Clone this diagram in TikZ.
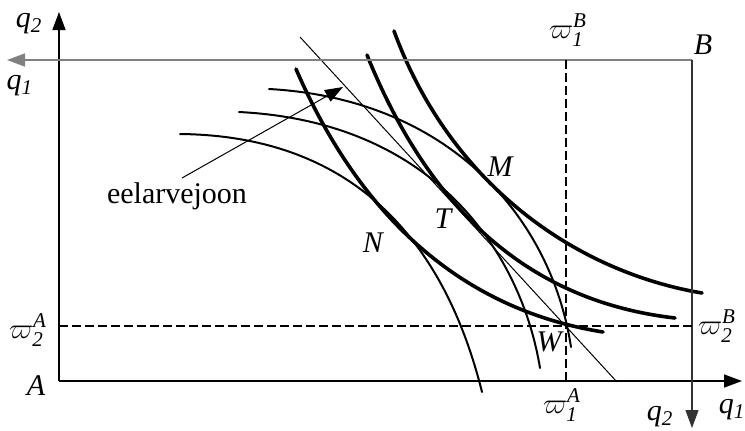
\documentclass[tikz,border=0pt]{standalone}
\usepackage{amsmath}
\usepackage{fontspec}
\setmainfont{Liberation Serif}
\usetikzlibrary{arrows.meta}
\begin{document}
\begin{tikzpicture}[x=0.5pt,y=-0.5pt,
  tip/.style={-{Triangle[length=9pt,width=6.5pt]}},
  axisline/.style={line width=0.75pt,tip},
  thickc/.style={line width=1.8pt,line cap=round},
  thinc/.style={line width=1pt,line cap=round},
  budget/.style={line width=0.5pt},
  dashl/.style={line width=1.3pt,dash pattern=on 4.3pt off 2.2pt},
  lbl/.style={font=\fontsize{15}{17}\selectfont\itshape,inner sep=0pt},
  txt/.style={font=\fontsize{15}{17}\selectfont,inner sep=0pt}]
\useasboundingbox (0,0) rectangle (745,430);
% key points
\coordinate (A) at (59,381);
\coordinate (Bp) at (692,60);
\coordinate (q2top) at (59,12);
\coordinate (q1right) at (742,381);
\coordinate (q1left) at (7,60);
\coordinate (q2bot) at (692,428);
\coordinate (d1top) at (566,60);
\coordinate (d1bot) at (566,381);
\coordinate (d2left) at (59,326);
\coordinate (d2right) at (692,326);
\coordinate (bl1) at (300,37);
\coordinate (bl2) at (617,382);
\coordinate (arrS) at (182,178);
\coordinate (arrE) at (343,87);
% A's indifference curves (thick)
\coordinate (a0) at (296,69);  \coordinate (a1) at (603,332);
\coordinate (b0) at (367,55);  \coordinate (b1) at (675,318);
\coordinate (c0) at (394,31);  \coordinate (c1) at (702,293);
\draw[thickc] (a0) .. controls (356,207) and (453,308) .. (a1);
\draw[thickc] (b0) .. controls (437,228) and (545,303) .. (b1);
\draw[thickc] (c0) .. controls (449,181) and (572,271) .. (c1);
% B's indifference curves (thin)
\coordinate (d0) at (269,89);  \coordinate (d1) at (571,347);
\coordinate (e0) at (239,112); \coordinate (e1) at (540,368);
\coordinate (f0) at (180,134); \coordinate (f1) at (482,392);
\draw[thinc] (d0) .. controls (449,99) and (551,217) .. (d1);
\draw[thinc] (e0) .. controls (439,122) and (522,258) .. (e1);
\draw[thinc] (f0) .. controls (372,136) and (450,264) .. (f1);
% budget line
\draw[budget] (bl1) -- (bl2);
% axes
\draw[axisline] (A) -- (q2top);
\draw[axisline] (A) -- (q1right);
\draw[axisline,draw=black!50] (Bp) -- (q1left);
\draw[line width=0.6pt,draw=black!80,tip] (Bp) -- (q2bot);
% dashed lines
\draw[dashl] (d1top) -- (d1bot);
\draw[dashl] (d2left) -- (d2right);
% label arrow
\draw[budget,tip] (arrS) -- (arrE);
% labels
\node[lbl] (lq2a) at (29,24) {q\textsubscript{2}};
\node[lbl] (lq1a) at (20,86) {q\textsubscript{1}};
\node[lbl] (lB) at (703,45) {B};
\node[lbl] (lA) at (36,386) {A};
\node[lbl] (lq1b) at (732,410) {q\textsubscript{1}};
\node[lbl] (lq2b) at (660,417) {q\textsubscript{2}};
\node[lbl] (lw1B) at (568,30) {$\varpi_{\text{1}}^{\textit{B}}$};
\node[lbl] (lw2A) at (28,330) {$\varpi_{\text{2}}^{\textit{A}}$};
\node[lbl] (lw1A) at (562,405) {$\varpi_{\text{1}}^{\textit{A}}$};
\node[lbl] (lw2B) at (717,326) {$\varpi_{\text{2}}^{\textit{B}}$};
\node[lbl] (lW) at (549,342) {W};
\node[lbl] (lN) at (373,243) {N};
\node[lbl] (lT) at (443,219) {T};
\node[lbl] (lM) at (500,167) {M};
\node[txt] (lbud) at (177,196) {eelarvejoon};
\end{tikzpicture}
\end{document}
